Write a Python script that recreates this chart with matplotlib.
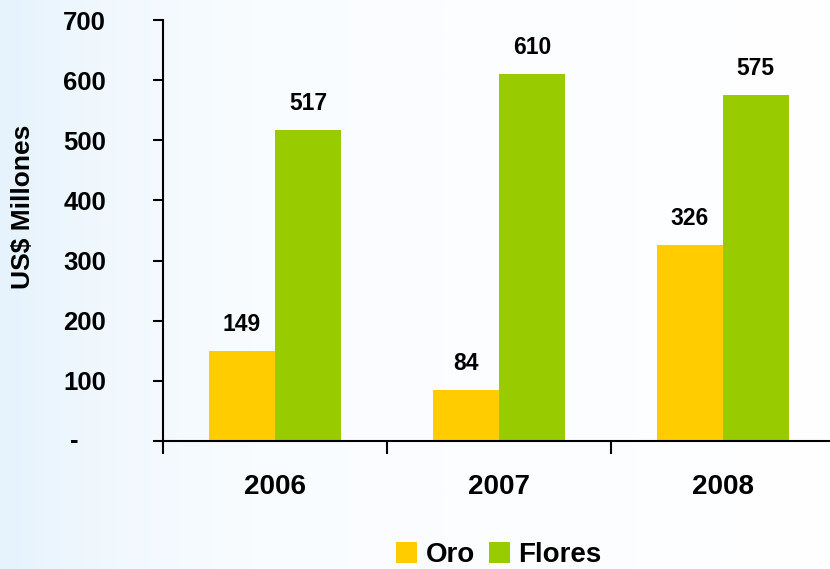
import numpy as np
import matplotlib.pyplot as plt
from matplotlib.colors import LinearSegmentedColormap

years = ['2006', '2007', '2008']
oro = [149, 84, 326]
flores = [517, 610, 575]
yticks = [0, 100, 200, 300, 400, 500, 600, 700]
ytick_labels = ['', '100', '200', '300', '400', '500', '600', '700']

plt.rcParams['font.family'] = ['Liberation Sans', 'DejaVu Sans']
plt.rcParams['font.weight'] = 'bold'

fig = plt.figure(figsize=(8.3, 5.69), dpi=100)

# light blue fade on the left side of the slide
bg = fig.add_axes([0, 0, 1, 1], zorder=-10)
grad = np.linspace(0, 1, 400).reshape(1, -1)
cmap = LinearSegmentedColormap.from_list(
    'bg', [(0, '#e6f3fc'), (0.12, '#f0f8fe'), (0.3, '#f9fcff'), (1, '#ffffff')])
bg.imshow(grad, aspect='auto', cmap=cmap, extent=[0, 1, 0, 1])
bg.axis('off')

ax = fig.add_axes([163 / 830, 128 / 569, 1 - 163 / 830, 421 / 569])
ax.patch.set_alpha(0)

x = np.arange(len(years))
w = 0.295
b1 = ax.bar(x - w / 2, oro, w, color='#ffcc00', label='Oro')
b2 = ax.bar(x + w / 2, flores, w, color='#99cc00', label='Flores')

for bars, vals in [(b1, oro), (b2, flores)]:
    for bar, v in zip(bars, vals):
        ax.annotate(str(v), (bar.get_x() + bar.get_width() / 2, v),
                    xytext=(0, 11), textcoords='offset points',
                    ha='center', va='bottom', fontsize=16.5, fontweight='bold')

ax.set_xlim(-0.5, 2.48)
ax.set_ylim(0, 700)

ax.spines['top'].set_visible(False)
ax.spines['right'].set_visible(False)
ax.spines['left'].set_linewidth(1.5)
ax.spines['bottom'].set_linewidth(1.5)

ax.set_yticks(yticks)
ax.set_yticklabels(ytick_labels, fontsize=18.5, fontweight='bold')
ax.tick_params(axis='y', length=7, width=1.5, pad=34)
ax.annotate('-', (0, 0), xycoords=('axes fraction', 'data'),
            xytext=(-89, 0), textcoords='offset pixels',
            ha='center', va='center', fontsize=18.5, fontweight='bold')

ax.set_xticks([-0.5, 0.5, 1.5])
ax.set_xticklabels([])
ax.tick_params(axis='x', length=9, width=1.5)
for i, yr in enumerate(years):
    ax.annotate(yr, (i, 0), xycoords=('data', 'axes fraction'),
                xytext=(0, -46), textcoords='offset pixels',
                ha='center', va='center', fontsize=20, fontweight='bold')

fig.text(0.028, 0.636, 'US$ Millones', rotation=90, ha='center', va='center',
         fontsize=19, fontweight='bold')

fig.legend(handles=[b1, b2], loc='center', bbox_to_anchor=(0.601, 0.024),
           ncol=2, frameon=False, handlelength=0.75, handleheight=0.75,
           handletextpad=0.3, columnspacing=0.5, prop={'weight': 'bold', 'size': 20})

fig.savefig('out.png', dpi=100)
